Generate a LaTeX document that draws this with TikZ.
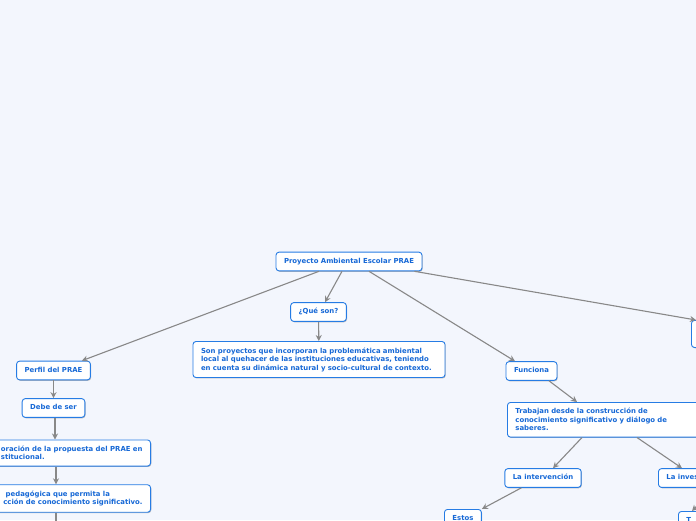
\documentclass[tikz,border=0pt]{standalone}
\usepackage{fontspec}
\setmainfont{DejaVu Sans}
\usetikzlibrary{arrows.meta,shadows}
\definecolor{fondo}{RGB}{243,246,253}
\definecolor{borde}{RGB}{38,124,228}
\definecolor{texto}{RGB}{22,104,214}
\definecolor{linea}{RGB}{136,136,136}
\tikzset{
  caja/.style={draw=borde, line width=0.9pt, fill=white, rounded corners=3pt,
    text=texto, font=\bfseries\fontsize{6.9}{8.5}\selectfont,
    inner xsep=8pt, inner ysep=6pt,
    drop shadow={shadow xshift=0.7pt, shadow yshift=-0.9pt, opacity=0.25, fill=black}},
  idea/.style={caja, text height=5.2pt, text depth=1.5pt},
  bloque/.style={caja, align=left},
  enlace/.style={draw=linea, line width=1.1pt, -{Stealth[length=6pt,width=6pt]}}
}
\begin{document}
\begin{tikzpicture}[x=1pt, y=-1pt, line join=round]
  % fondo y marco
  \useasboundingbox (0,0) rectangle (696,520);
  \fill[fondo] (0,0) rectangle (696,520);

  % idea central
  \node[idea] (prae) at (349,261.5) {Proyecto Ambiental Escolar PRAE};

  % rama: que son
  \node[idea] (que) at (318.5,312) {¿Qué son?};
  \node[bloque, text width=236pt] (son) at (319,359.5) {Son proyectos que incorporan la problemática ambiental\\ local al quehacer de las instituciones educativas, teniendo\\ en cuenta su dinámica natural y socio-cultural de contexto.};

  % rama: perfil
  \node[idea] (perfil) at (53.5,370.5) {Perfil del PRAE};
  \node[idea] (debe) at (53.5,408) {Debe de ser};
  \node[bloque, anchor=east] (elab) at (151,453) {oración de la propuesta del PRAE en\\ stitucional.};
  \node[bloque, anchor=east] (estr) at (151,498.5) {\ pedagógica que permita la\\ cción de conocimiento significativo.};
  \coordinate (abajo) at (56,528);

  % rama: funciona
  \node[idea] (funciona) at (531.5,371) {Funciona};
  \node[bloque, text width=200pt, anchor=north west] (trabajan) at (507,402) {Trabajan desde la construcción de\\ conocimiento significativo y diálogo de\\ saberes.};
  \node[idea] (interv) at (543,478) {La intervención};
  \node[idea, anchor=west] (inves) at (658,478) {La investigación};
  \node[idea, anchor=north west] (estos) at (444,509) {Estos};
  \node[idea, anchor=north west] (hijo) at (678,511) {T};

  % rama derecha (fuera del cuadro)
  \node[caja, anchor=north west, minimum width=60pt, minimum height=27pt] (lado) at (691,320) {};

  % conectores
  \draw[enlace] ([xshift=-30pt]prae.south) -- ([xshift=-9pt]perfil.north east);
  \draw[enlace] ([xshift=-7pt]prae.south) -- ([xshift=6.5pt]que.north);
  \draw[enlace] ([xshift=20pt]prae.south) -- ([xshift=-16.5pt]funciona.north);
  \draw[enlace] ([xshift=-8pt]prae.south east) -- ([xshift=5pt]lado.north west);
  \draw[enlace] (que) -- (son);
  \draw[enlace] (perfil) -- (debe);
  \draw[enlace] ([xshift=1.5pt]debe.south) -- ([xshift=1.5pt]debe.south |- elab.north);
  \draw[enlace] (elab.south -| abajo) -- (estr.north -| abajo);
  \draw[enlace] (estr.south -| abajo) -- (abajo);
  \draw[enlace] ([xshift=17.5pt]funciona.south) -- ([xshift=70pt]trabajan.north west);
  \draw[enlace] ([xshift=75pt]trabajan.south west) -- ([xshift=10pt]interv.north);
  \draw[enlace] ([xshift=130pt]trabajan.south west) -- ([xshift=24pt]inves.north west);
  \draw[enlace] ([xshift=17pt]interv.south west) -- (estos.north east);
  \draw[enlace] ([xshift=57pt]inves.south west) -- ([xshift=14pt]hijo.north west);
\end{tikzpicture}
\end{document}
